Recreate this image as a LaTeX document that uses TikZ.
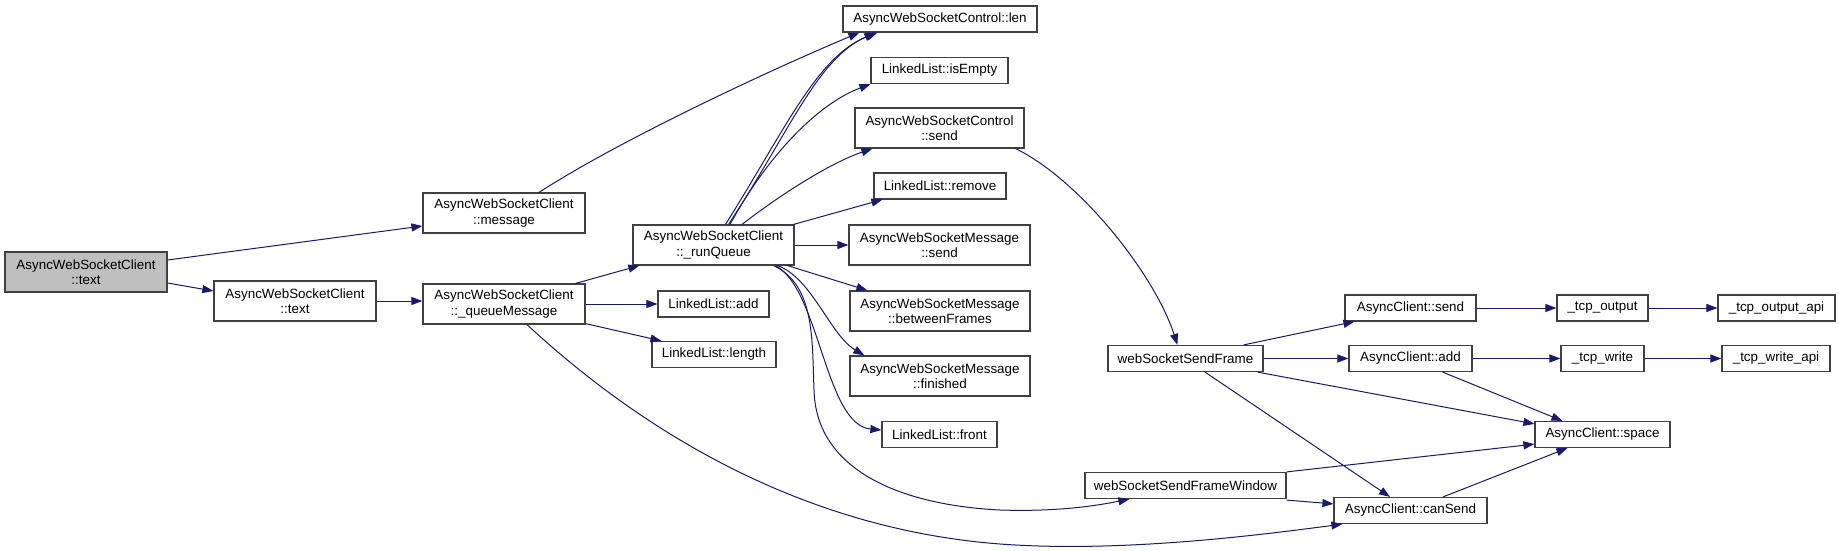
\documentclass[tikz,border=0pt]{standalone}
\usepackage{fontspec}
\setmainfont{Liberation Sans}
\usetikzlibrary{arrows.meta}
\definecolor{edgec}{HTML}{191970}
\definecolor{boxc}{HTML}{404040}
\definecolor{rootfill}{HTML}{BFBFBF}
\begin{document}
\begin{tikzpicture}[x=1pt,y=-1pt,
  fn/.style={draw=boxc, line width=1.2pt, fill=white, inner sep=0pt, align=center,
    font=\fontsize{13.4}{15.5}\selectfont, minimum height=26pt},
  two/.style={minimum height=40pt},
  e/.style={draw=edgec, line width=1pt, -{Triangle[length=11pt,width=8pt]}}]
\useasboundingbox (0,0) rectangle (1839,551);
\fill[white] (0,0) rectangle (1839,551);
% nodes
\node[fn,two,fill=rootfill,minimum width=162pt] (root) at (86,272) {AsyncWebSocketClient\\::text};
\node[fn,two,minimum width=162pt] (text2) at (295,301) {AsyncWebSocketClient\\::text};
\node[fn,two,minimum width=162pt] (message) at (504,213) {AsyncWebSocketClient\\::message};
\node[fn,two,minimum width=162pt] (queue) at (504,304) {AsyncWebSocketClient\\::\_queueMessage};
\node[fn,two,minimum width=161pt] (runq) at (713.5,245) {AsyncWebSocketClient\\::\_runQueue};
\node[fn,minimum width=111pt] (add) at (713.5,304) {LinkedList::add};
\node[fn,minimum width=124pt] (length) at (714,354.5) {LinkedList::length};
\node[fn,minimum width=194pt] (len) at (940,19) {AsyncWebSocketControl::len};
\node[fn,minimum width=137pt] (isEmpty) at (939.5,70.5) {LinkedList::isEmpty};
\node[fn,two,minimum width=169pt] (csend) at (939.5,128) {AsyncWebSocketControl\\::send};
\node[fn,minimum width=132pt] (remove) at (940,186) {LinkedList::remove};
\node[fn,two,minimum width=181pt] (msend) at (939.5,245) {AsyncWebSocketMessage\\::send};
\node[fn,two,minimum width=180pt] (between) at (940,311) {AsyncWebSocketMessage\\::betweenFrames};
\node[fn,two,minimum width=180pt] (finished) at (940,376) {AsyncWebSocketMessage\\::finished};
\node[fn,minimum width=115pt] (front) at (939.5,434.5) {LinkedList::front};
\node[fn,minimum width=155pt] (wsf) at (1185.5,358.5) {webSocketSendFrame};
\node[fn,minimum width=201pt] (wsfw) at (1185.5,485.5) {webSocketSendFrameWindow};
\node[fn,minimum width=131pt] (acsend) at (1410.5,308) {AsyncClient::send};
\node[fn,minimum width=123pt] (acadd) at (1410.5,358.5) {AsyncClient::add};
\node[fn,minimum width=135pt] (space) at (1602.5,434.5) {AsyncClient::space};
\node[fn,minimum width=153pt] (cansend) at (1410.5,510.5) {AsyncClient::canSend};
\node[fn,minimum width=91pt] (tcpout) at (1602.5,308) {\_tcp\_output};
\node[fn,minimum width=117pt] (tcpoutapi) at (1776.5,308) {\_tcp\_output\_api};
\node[fn,minimum width=83pt] (tcpwrite) at (1602.5,358.5) {\_tcp\_write};
\node[fn,minimum width=108pt] (tcpwriteapi) at (1776,358.5) {\_tcp\_write\_api};
% edges
\draw[e] ([yshift=12pt]root.east) -- ([yshift=-13pt]message.west);
\draw[e] ([yshift=-11pt]root.east) -- ([yshift=10pt]text2.west);
\draw[e] (text2.east) -- (text2.east -| queue.west);
\draw[e] ([xshift=35pt]message.north) .. controls (620,140) and (770,70) .. ([xshift=17pt]len.south west);
\draw[e] ([xshift=-10pt]queue.north east) -- ([xshift=7pt]runq.south west);
\draw[e] (queue.east) -- (add.west);
\draw[e] ([yshift=1pt]queue.south east) -- ([xshift=10pt]length.north west);
\draw[e] ([xshift=23pt]queue.south) .. controls (630,420) and (790,528) .. (1000,544)
  .. controls (1120,553) and (1260,535) .. ([xshift=9pt]cansend.south west);
\draw[e] ([xshift=12pt]runq.north) .. controls (785,130) and (817,56) .. ([xshift=35pt]len.south west);
\draw[e] ([xshift=15pt]runq.north) .. controls (790,131) and (817,59) .. ([xshift=33pt]len.south west);
\draw[e] ([xshift=16.5pt]runq.north) .. controls (765,160) and (815,105) .. (isEmpty.south west);
\draw[e] ([xshift=28.5pt]runq.north) .. controls (780,195) and (830,163) .. ([xshift=18pt]csend.south west);
\draw[e] ([xshift=-1pt]runq.north east) -- ([xshift=9pt]remove.south west);
\draw[e] (runq.east) -- (msend.west);
\draw[e] ([xshift=-7pt]runq.south east) -- ([xshift=18pt]between.north west);
\draw[e] ([xshift=-17pt]runq.south east) .. controls (812,278) and (830,335) .. ([xshift=15pt]finished.north west);
\draw[e] ([xshift=-19pt]runq.south east) .. controls (820,290) and (825,425) .. ([yshift=4.5pt]front.west);
\draw[e] ([xshift=-21pt]runq.south east) .. controls (815,285) and (812,340) .. (814,390)
  .. controls (816,470) and (900,505) .. (1000,510)
  .. controls (1060,512) and (1100,505) .. ([xshift=45pt]wsfw.south west);
\draw[e] ([xshift=-9pt]csend.south east) .. controls (1080,180) and (1155,275) .. ([xshift=70pt]wsf.north west);
\draw[e] ([xshift=-20pt]wsf.north east) -- ([xshift=10pt]acsend.south west);
\draw[e] (wsf.east) -- (acadd.west);
\draw[e] ([xshift=-6pt]wsf.south east) -- ([yshift=-3pt]space.north west);
\draw[e] ([xshift=19.5pt]wsf.south) -- ([xshift=-20.5pt]cansend.north);
\draw[e] (wsfw.north east) -- ([yshift=4pt]space.south west);
\draw[e] ([yshift=-1pt]wsfw.south east) -- ([yshift=-7pt]cansend.north west);
\draw[e] ([xshift=32.5pt]cansend.north) -- ([xshift=33pt]space.south west);
\draw[e] ([xshift=-30pt]acadd.south east) -- ([xshift=28pt]space.north west);
\draw[e] (acsend.east) -- (tcpout.west);
\draw[e] (tcpout.east) -- (tcpoutapi.west);
\draw[e] (acadd.east) -- (tcpwrite.west);
\draw[e] (tcpwrite.east) -- (tcpwriteapi.west);
\end{tikzpicture}
\end{document}
